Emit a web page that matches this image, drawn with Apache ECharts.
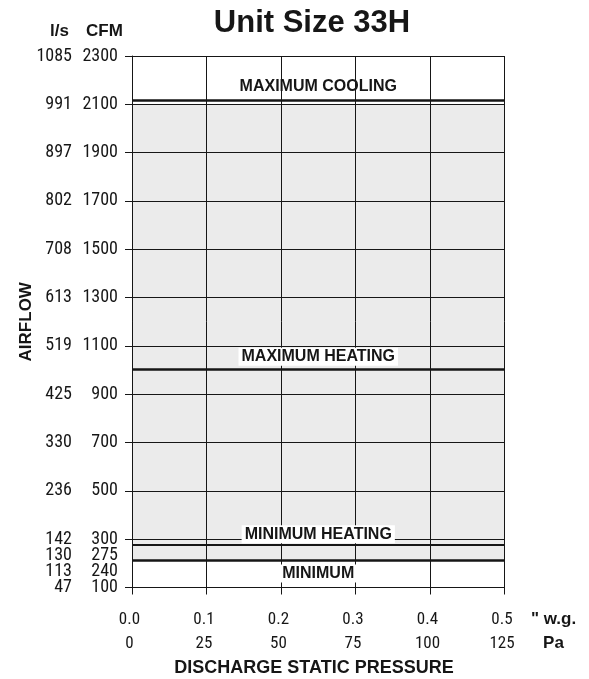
<!DOCTYPE html>
<html><head><meta charset="utf-8">
<script src="https://cdn.jsdelivr.net/npm/echarts@6/dist/echarts.min.js"></script>
<style>html,body{margin:0;padding:0;background:#fff}#chart{width:589px;height:679px}</style>
</head><body><div id="chart"></div>
<script>
// Tick labels
const cfmTicks = [100, 300, 500, 700, 900, 1100, 1300, 1500, 1700, 1900, 2100, 2300];
const lsTicks = [47, 142, 236, 330, 425, 519, 613, 708, 802, 897, 991, 1085];
const extraCfmTicks = [275, 240];
const extraLsTicks = [130, 113];
const wgTicks = ['0.0', '0.1', '0.2', '0.3', '0.4', '0.5'];
const paTicks = ['0', '25', '50', '75', '100', '125'];
// Operating limits (CFM)
const limitNames = ['MAXIMUM COOLING', 'MAXIMUM HEATING', 'MINIMUM HEATING', 'MINIMUM'];
const limitCfm = [2115, 1005, 275, 212];
const shadedRange = [212, 2100];

const INK = '#161616';
const NUM_FONT = "'Liberation Sans Narrow', 'Roboto Condensed', 'Liberation Sans', sans-serif";
const BOLD_FONT = "'Liberation Sans', Arial, sans-serif";

function pair(ls, cfm) { return '{a|' + ls + '}{b|' + cfm + '}'; }
// The bottom of the scale is crowded: the 300, 275, 240 and 100 labels are
// stacked as one block whose last line sits on the 100 tick.
function yLabel(v) {
  const i = cfmTicks.indexOf(v);
  if (i < 0 || i === 1) return '';
  if (i === 0) {
    const lines = [pair(lsTicks[1], cfmTicks[1])]
      .concat(extraCfmTicks.map((c, k) => pair(extraLsTicks[k], c)))
      .concat([pair(lsTicks[0], cfmTicks[0]), '{a| }', '{a| }', '{a| }']);
    return lines.join('\n');
  }
  return pair(lsTicks[i], cfmTicks[i]);
}
function xLabel(v) {
  const i = Math.round(v * 10);
  return '{w|' + wgTicks[i] + '}\n{p|' + paTicks[i] + '}';
}

const numStyle = { fontFamily: NUM_FONT, fontSize: 18, color: INK, lineHeight: 16 };
const labelCfg = [
  { pos: 'insideMiddleTop', bg: null, dist: 5, width: 2.5 },
  { pos: 'insideMiddleTop', bg: '#fff', dist: 3, width: 2.5 },
  { pos: 'insideMiddleTop', bg: '#fff', dist: 2, width: 2 },
  { pos: 'insideMiddleBottom', bg: '#fff', dist: 4, width: 2.5 }
];

const chart = echarts.init(document.getElementById('chart'), null, { renderer: 'canvas' });
chart.setOption({
  animation: false,
  backgroundColor: '#fff',
  title: [
    { text: 'Unit Size 33H', left: 312, top: 8, textAlign: 'center', padding: 0,
      textStyle: { fontFamily: BOLD_FONT, fontSize: 31, fontWeight: 'bold', color: INK } },
    { text: 'l/s', left: 50, top: 23, padding: 0,
      textStyle: { fontFamily: BOLD_FONT, fontSize: 17, fontWeight: 'bold', color: INK } },
    { text: 'CFM', left: 86, top: 23, padding: 0,
      textStyle: { fontFamily: BOLD_FONT, fontSize: 17, fontWeight: 'bold', color: INK } },
    { text: 'DISCHARGE STATIC PRESSURE', left: 314, top: 659, textAlign: 'center', padding: 0,
      textStyle: { fontFamily: BOLD_FONT, fontSize: 18, fontWeight: 'bold', color: INK } }
  ],
  grid: { left: 132, right: 84.5, top: 56, bottom: 91.5, containLabel: false },
  xAxis: {
    type: 'value', min: 0, max: 0.5, interval: 0.1, z: 2,
    axisLine: { show: true, lineStyle: { color: INK, width: 1 } },
    axisTick: { show: true, length: 7, lineStyle: { color: INK, width: 1 } },
    splitLine: { show: true, lineStyle: { color: INK, width: 1 } },
    axisLabel: {
      margin: 20, formatter: xLabel, padding: [0, 5, 0, 0],
      showMinLabel: true, showMaxLabel: true, hideOverlap: false,
      rich: {
        w: { fontFamily: NUM_FONT, fontSize: 17, color: INK, lineHeight: 24 },
        p: { fontFamily: NUM_FONT, fontSize: 17, color: INK, lineHeight: 24 }
      }
    },
    name: '" w.g.\nPa', nameLocation: 'end', nameGap: 49, nameMoveOverlap: false,
    nameTextStyle: { fontFamily: BOLD_FONT, fontSize: 17, fontWeight: 'bold', color: INK,
      align: 'center', verticalAlign: 'top', lineHeight: 24, padding: [20, 0, 0, 0] }
  },
  yAxis: {
    type: 'value', min: 100, max: 2300, interval: 200, z: 2,
    axisLine: { show: true, lineStyle: { color: INK, width: 1 } },
    axisTick: { show: true, length: 7, lineStyle: { color: INK, width: 1 } },
    splitLine: { show: true, lineStyle: { color: INK, width: 1 } },
    axisLabel: {
      margin: 14, formatter: yLabel, lineHeight: 16,
      showMinLabel: true, showMaxLabel: true, hideOverlap: false,
      rich: {
        a: Object.assign({ width: 40, align: 'right' }, numStyle),
        b: Object.assign({ width: 46, align: 'right' }, numStyle)
      }
    },
    name: 'AIRFLOW', nameLocation: 'middle', nameRotate: 90, nameGap: 97, nameMoveOverlap: false,
    nameTextStyle: { fontFamily: BOLD_FONT, fontSize: 17, fontWeight: 'bold', color: INK }
  },
  series: [
    {
      type: 'line', z: 1, data: [], silent: true,
      markArea: {
        silent: true,
        itemStyle: { color: '#ebebeb' },
        data: [[{ yAxis: shadedRange[0] }, { yAxis: shadedRange[1] }]]
      }
    },
    {
      type: 'line', z: 3, data: [], silent: true,
      markLine: {
        silent: true, symbol: ['none', 'none'],
        data: limitCfm.map((v, i) => ({
          name: limitNames[i], yAxis: v,
          lineStyle: { color: INK, width: labelCfg[i].width, type: 'solid' },
          label: {
            show: true, formatter: '{b}', position: labelCfg[i].pos, distance: labelCfg[i].dist,
            fontFamily: BOLD_FONT, fontSize: 16, fontWeight: 'bold', color: INK,
            backgroundColor: labelCfg[i].bg || 'transparent', padding: [1, 3, 1, 3]
          }
        }))
      }
    }
  ]
});
</script></body></html>
